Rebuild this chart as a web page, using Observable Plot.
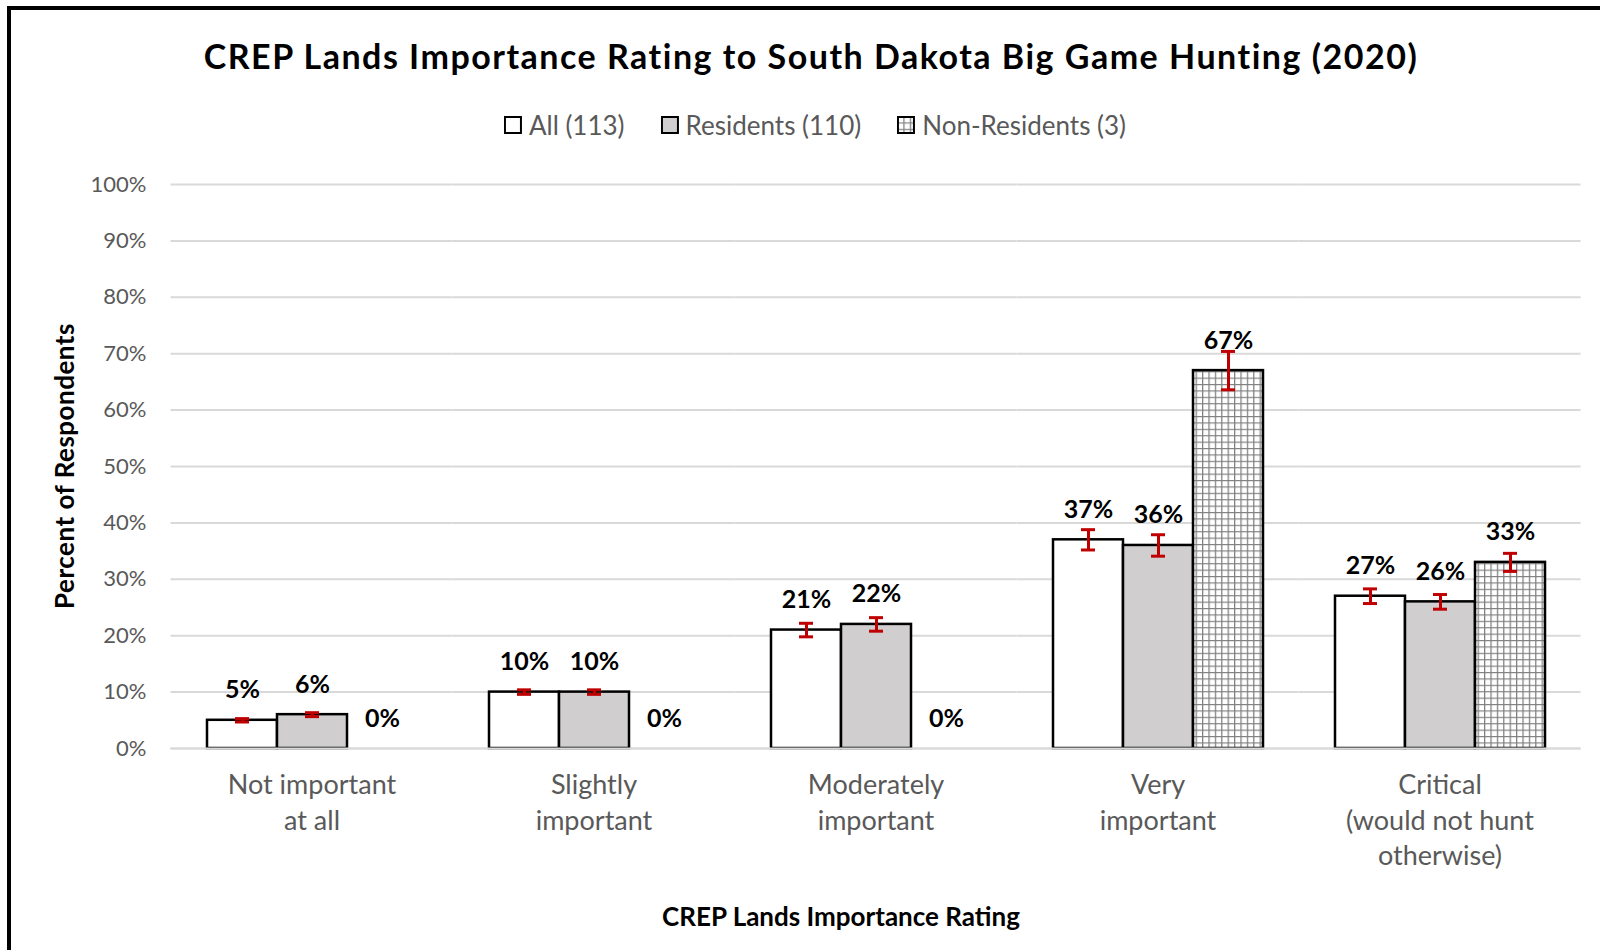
<!DOCTYPE html>
<html>
<head>
<meta charset="utf-8">
<script src="https://cdn.jsdelivr.net/npm/d3@7"></script>
<script src="https://cdn.jsdelivr.net/npm/@observablehq/plot@0.6"></script>
<style>
  html, body { margin: 0; padding: 0; background: #fff; }
  body { width: 1600px; height: 950px; position: relative; overflow: hidden; font-family: Lato, sans-serif; }
  #frame { position: absolute; left: 7px; top: 6px; width: 1700px; height: 1100px;
           border-top: 4px solid #000; border-left: 4px solid #000; box-sizing: border-box; }
  #chart { position: absolute; left: 0; top: 0; }
  .abs { position: absolute; white-space: nowrap; }
  #title { left: 811px; top: 55px; transform: translate(-50%, -50%); font-size: 34px; letter-spacing: 1.5px; font-weight: bold; color: #000; }
  #legend { left: 815px; top: 125px; transform: translate(-50%, -50%); display: flex; gap: 36px; font-size: 26px; color: #595959; }
  .item { display: flex; align-items: center; gap: 7px; }
  .item svg { display: block; }
  #ytitle { left: 64px; top: 466px; transform: translate(-50%, -50%) rotate(-90deg); font-size: 26px; letter-spacing: 0.5px; font-weight: bold; color: #000; }
  #xtitle { left: 841px; top: 916px; transform: translate(-50%, -50%); font-size: 26px; font-weight: bold; color: #000; }
</style>
</head>
<body>
<svg width="0" height="0" style="position:absolute">
  <defs>
    <pattern id="grid" patternUnits="userSpaceOnUse" width="6.4" height="6.4">
      <rect width="6.4" height="6.4" fill="#ffffff"/>
      <path d="M0.6 0 V6.4 M0 0.6 H6.4" stroke="#7f7f7f" stroke-width="1.3" fill="none"/>
    </pattern>
  </defs>
</svg>
<div id="frame"></div>
<div id="chart"></div>
<div id="title" class="abs">CREP Lands Importance Rating to South Dakota Big Game Hunting (2020)</div>
<div id="legend" class="abs"></div>
<div id="ytitle" class="abs">Percent of Respondents</div>
<div id="xtitle" class="abs">CREP Lands Importance Rating</div>
<script>
// ---- Data ----
const categories = ["Not important\nat all", "Slightly\nimportant", "Moderately\nimportant", "Very\nimportant", "Critical\n(would not hunt\notherwise)"];
const seriesNames = ["All", "Residents", "Non-Residents"];
const seriesCounts = [113, 110, 3];
const allValues = [5, 10, 21, 37, 27];
const residentValues = [6, 10, 22, 36, 26];
const nonResidentValues = [0, 0, 0, 67, 33];
const allErrors = [0.3, 0.4, 1.2, 1.8, 1.3];
const residentErrors = [0.35, 0.4, 1.2, 1.9, 1.3];
const nonResidentErrors = [0, 0, 0, 3.4, 1.6];
const yTicks = [0, 10, 20, 30, 40, 50, 60, 70, 80, 90, 100];

const seriesValues = [allValues, residentValues, nonResidentValues];
const seriesErrors = [allErrors, residentErrors, nonResidentErrors];
const seriesFills = ["#ffffff", "#d0cece", "url(#grid)"];

const rows = [];
categories.forEach((c, i) => {
  seriesNames.forEach((s, j) => {
    rows.push({category: c, series: s, value: seriesValues[j][i], error: seriesErrors[j][i]});
  });
});
const barRows = rows.filter(d => d.value > 0);
const errRows = rows.filter(d => d.error > 0);

const plot = Plot.plot({
  width: 1600,
  height: 950,
  marginTop: 184,
  marginBottom: 202,
  marginLeft: 170,
  marginRight: 18,
  style: {fontFamily: "Lato, sans-serif", background: "transparent", overflow: "visible"},
  fx: {domain: categories, paddingInner: 0.251, paddingOuter: 0.1255, label: null},
  x: {domain: seriesNames, padding: 0, axis: null},
  y: {domain: [0, 100], axis: null},
  color: {domain: seriesNames, range: seriesFills},
  marks: [
    Plot.ruleY(yTicks, {stroke: "#d9d9d9", strokeWidth: 2, insetLeft: -35.5, insetRight: -35.5}),
    Plot.axisY(yTicks, {tickSize: 0, tickPadding: 60, tickFormat: d => d + "%", fontSize: 22, color: "#595959", label: null}),
    Plot.axisFx({anchor: "bottom", tickSize: 0, tickPadding: 21, fontSize: 27, lineHeight: 1.3, color: "#595959", label: null}),
    Plot.barY(barRows, {fx: "category", x: "series", y: "value", fill: "series", stroke: "#000", strokeWidth: 2.5}),
    Plot.ruleY([0], {stroke: "#d9d9d9", strokeWidth: 2, insetLeft: -35.5, insetRight: -35.5}),
    Plot.ruleX(errRows, {fx: "category", x: "series", y1: d => d.value - d.error, y2: d => d.value + d.error, stroke: "#c00000", strokeWidth: 3}),
    Plot.tickY(errRows, {fx: "category", x: "series", y: d => d.value - d.error, stroke: "#c00000", strokeWidth: 3, insetLeft: 28, insetRight: 28}),
    Plot.tickY(errRows, {fx: "category", x: "series", y: d => d.value + d.error, stroke: "#c00000", strokeWidth: 3, insetLeft: 28, insetRight: 28}),
    Plot.text(rows, {fx: "category", x: "series", y: "value", text: d => d.value + "%", dy: -30, fontSize: 25, fontWeight: "bold", fill: "#000"})
  ]
});
document.getElementById("chart").appendChild(plot);

// ---- Legend ----
const legend = document.getElementById("legend");
seriesNames.forEach((s, j) => {
  const item = document.createElement("div");
  item.className = "item";
  item.innerHTML = `<svg width="18" height="18"><rect x="1" y="1" width="16" height="16" fill="${seriesFills[j]}" stroke="#000" stroke-width="2"/></svg><span>${s} (${seriesCounts[j]})</span>`;
  legend.appendChild(item);
});
</script>
</body>
</html>
